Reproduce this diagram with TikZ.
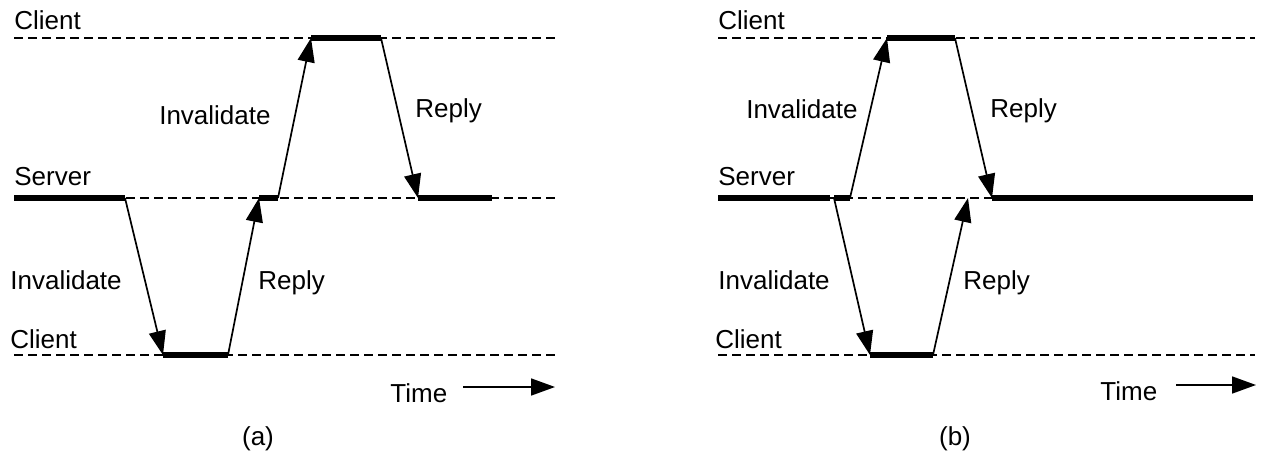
\documentclass[tikz,border=0pt]{standalone}
\usepackage{fontspec}
\setmainfont{Liberation Sans}
\usetikzlibrary{arrows.meta}

\tikzset{
  timeline/.style={line width=0.8pt, dash pattern=on 4.5pt off 2.5pt},
  busy/.style={line width=2.6pt},
  msg/.style={line width=0.85pt, -{Triangle[length=12pt, width=8.5pt]}},
  lbl/.style={font=\fontsize{13}{15}\selectfont, inner sep=0pt},
}

\begin{document}
\begin{tikzpicture}[x=0.5pt, y=-0.5pt]
    \useasboundingbox (0, 0) rectangle (1276, 466);

    % ---------------- (a) ----------------
    % Lines
    \coordinate (caL) at (14, 38);   \coordinate (caR) at (555, 38);
    \coordinate (saL) at (14, 198);  \coordinate (saR) at (555, 198);
    \coordinate (baL) at (14, 355);  \coordinate (baR) at (555, 355);
    \draw [timeline] (caL) -- (caR);
    \draw [timeline] (saL) -- (saR);
    \draw [timeline] (baL) -- (baR);

    % Events
    \coordinate (sa1) at (125, 198);
    \coordinate (ba1) at (163, 355);
    \coordinate (ba2) at (228, 355);
    \coordinate (sa2) at (259, 198);
    \coordinate (sa3) at (278, 198);
    \coordinate (ca1) at (311, 38);
    \coordinate (ca2) at (381, 38);
    \coordinate (sa4) at (418, 198);
    \coordinate (sa5) at (492, 198);

    % Busy
    \draw [busy] (saL) -- (sa1);
    \draw [busy] (ba1) -- (ba2);
    \draw [busy] (sa2) -- (sa3);
    \draw [busy] (ca1) -- (ca2);
    \draw [busy] (sa4) -- (sa5);

    % Messages
    \draw [msg] (sa1) -- (ba1);
    \draw [msg] (ba2) -- (sa2);
    \draw [msg] (sa3) -- (ca1);
    \draw [msg] (ca2) -- (sa4);

    % Labels
    \node [lbl, anchor=base west] (cliTopA) at (14, 30) {Client};
    \node [lbl, anchor=base west] (srvA) at (14, 185) {Server};
    \node [lbl, anchor=base west] (cliBotA) at (10, 348) {Client};
    \node [lbl, anchor=base east] (invTopA) at (271, 124) {Invalidate};
    \node [lbl, anchor=base west] (repTopA) at (415, 117) {Reply};
    \node [lbl, anchor=base west] (invBotA) at (10, 289) {Invalidate};
    \node [lbl, anchor=base west] (repBotA) at (258, 289) {Reply};

    % Time
    \node [lbl, anchor=base west] (timeA) at (390, 402) {Time};
    \coordinate (t0A) at (463, 387);
    \coordinate (t1A) at (555, 387);
    \draw [msg] (t0A) -- (t1A);

    % Figure Label
    \node [lbl, anchor=base] (capA) at (258, 445) {(a)};

    % ---------------- (b) ----------------
    % Lines
    \coordinate (cbL) at (718, 38);   \coordinate (cbR) at (1255, 38);
    \coordinate (sbL) at (718, 198);
    \coordinate (bbL) at (718, 355);  \coordinate (bbR) at (1255, 355);
    \draw [timeline] (cbL) -- (cbR);
    \draw [timeline] (bbL) -- (bbR);

    % Events
    \coordinate (sb0) at (830, 198);
    \coordinate (sb1) at (834, 198);
    \coordinate (bb1) at (870, 355);
    \coordinate (bb2) at (933, 355);
    \coordinate (sb2) at (850, 198);
    \coordinate (cb1) at (887, 38);
    \coordinate (cb2) at (955, 38);
    \coordinate (sb3) at (968, 198);
    \coordinate (sb4) at (992, 198);
    \coordinate (sb5) at (1253, 198);

    % Busy
    \draw [timeline] (sbL) -- (sb4);
    \draw [busy] (sbL) -- (sb0);
    \draw [busy] (sb1) -- (sb2);
    \draw [busy] (bb1) -- (bb2);
    \draw [busy] (cb1) -- (cb2);
    \draw [busy] (sb4) -- (sb5);

    % Messages
    \draw [msg] (sb1) -- (bb1);
    \draw [msg] (bb2) -- (sb3);
    \draw [msg] (sb2) -- (cb1);
    \draw [msg] (cb2) -- (sb4);

    % Labels
    \node [lbl, anchor=base west] (cliTopB) at (718, 30) {Client};
    \node [lbl, anchor=base west] (srvB) at (718, 185) {Server};
    \node [lbl, anchor=base west] (cliBotB) at (715, 348) {Client};
    \node [lbl, anchor=base east] (invTopB) at (858, 119) {Invalidate};
    \node [lbl, anchor=base west] (repTopB) at (990, 117) {Reply};
    \node [lbl, anchor=base west] (invBotB) at (718, 289) {Invalidate};
    \node [lbl, anchor=base west] (repBotB) at (963, 289) {Reply};

    % Time
    \node [lbl, anchor=base west] (timeB) at (1100, 400) {Time};
    \coordinate (t0B) at (1176, 385);
    \coordinate (t1B) at (1256, 385);
    \draw [msg] (t0B) -- (t1B);

    % Figure Label
    \node [lbl, anchor=base] (capB) at (955, 445) {(b)};
\end{tikzpicture}
\end{document}
